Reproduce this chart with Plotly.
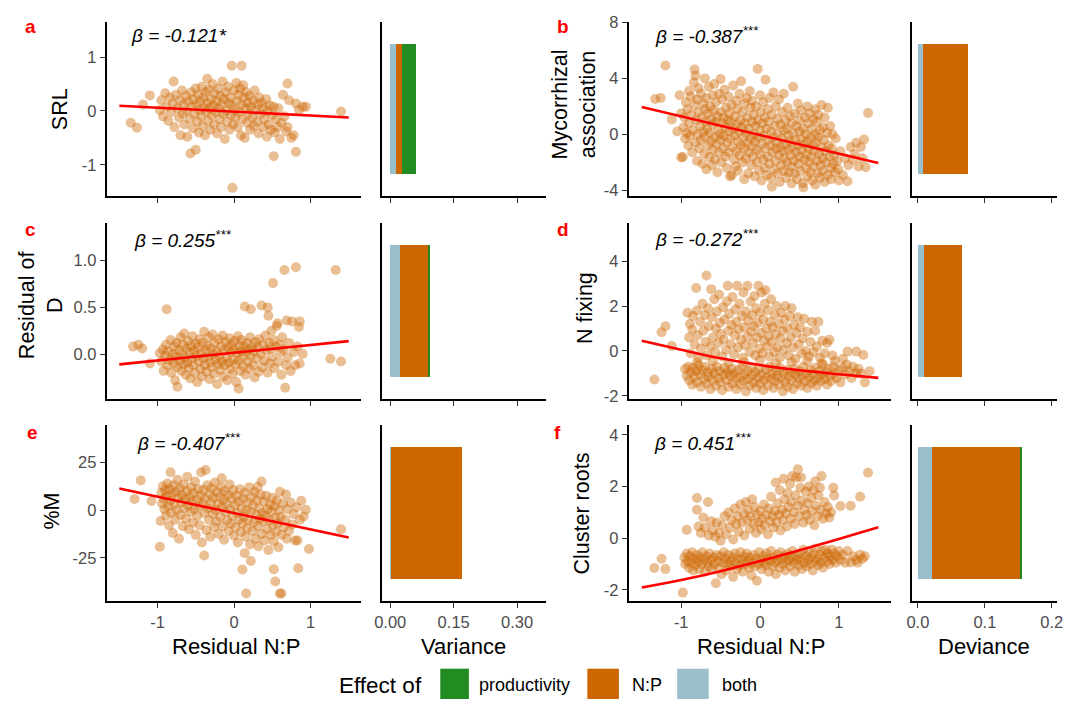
import plotly.graph_objects as go

W, H = 1071, 706

# ---------------- scatter data: (residual N:P, trait value) ----------------
srl_pts = [
    (-1.35, -0.22), (-1.27, -0.31), (-1.19, 0.12), (-1.10, 0.29),
    (-0.97, 0.02), (-0.95, 0.20), (-0.93, -0.10), (-0.90, 0.33), (-0.88, 0.08), (-0.86, -0.18),
    (-0.84, 0.25), (-0.82, -0.02), (-0.80, 0.14), (-0.79, 0.55), (-0.78, -0.30), (-0.76, 0.30),
    (-0.74, 0.05), (-0.72, -0.12), (-0.71, 0.20), (-0.70, -0.45), (-0.68, 0.38), (-0.67, -0.05),
    (-0.66, 0.12), (-0.65, -0.25), (-0.63, 0.28), (-0.62, 0.00), (-0.61, -0.48), (-0.60, 0.18),
    (-0.58, -0.15), (-0.57, -0.79), (-0.56, 0.35), (-0.55, 0.08), (-0.54, -0.32), (-0.53, 0.22),
    (-0.52, -0.05), (-0.50, -0.72), (-0.50, 0.42), (-0.49, 0.12), (-0.48, -0.20), (-0.47, 0.30),
    (-0.46, -0.40), (-0.45, 0.02), (-0.44, 0.18), (-0.43, -0.10), (-0.42, 0.45), (-0.41, -0.28),
    (-0.40, 0.25), (-0.39, 0.06), (-0.38, -0.45), (-0.37, 0.35), (-0.36, -0.02), (-0.35, 0.60),
    (-0.35, 0.15), (-0.34, -0.18), (-0.33, 0.40), (-0.32, 0.05), (-0.31, -0.35), (-0.30, 0.22),
    (-0.29, -0.08), (-0.28, 0.50), (-0.27, 0.10), (-0.26, -0.25), (-0.25, 0.32), (-0.24, -0.02),
    (-0.23, 0.18), (-0.22, -0.42), (-0.21, 0.42), (-0.20, 0.05), (-0.19, -0.15), (-0.18, 0.28),
    (-0.17, -0.30), (-0.16, 0.12), (-0.15, 0.55), (-0.14, -0.05), (-0.13, 0.22), (-0.12, -0.52),
    (-0.11, 0.35), (-0.10, 0.00), (-0.09, -0.20), (-0.08, 0.45), (-0.07, 0.15), (-0.06, -0.35),
    (-0.05, 0.25), (-0.04, -0.08), (-0.03, 0.84), (-0.03, 0.10), (-0.02, -1.43), (-0.01, -0.25),
    (0.00, 0.38), (0.01, 0.02), (0.02, -0.12), (0.03, 0.52), (0.04, 0.18), (0.05, -0.30),
    (0.06, 0.30), (0.07, -0.02), (0.08, 0.42), (0.09, -0.45), (0.10, 0.84), (0.10, 0.12),
    (0.11, -0.15), (0.12, 0.48), (0.13, 0.25), (0.14, -0.50), (0.15, 0.05), (0.16, 0.35),
    (0.17, -0.22), (0.18, 0.15), (0.19, -0.05), (0.20, 0.28), (0.21, -0.35), (0.22, 0.08),
    (0.24, -0.12), (0.25, 0.20), (0.26, -0.28), (0.27, 0.38), (0.28, 0.02), (0.30, -0.20),
    (0.31, 0.12), (0.32, -0.42), (0.33, 0.25), (0.35, -0.05), (0.36, 0.15), (0.38, -0.30),
    (0.39, 0.05), (0.40, -0.15), (0.42, 0.22), (0.43, -0.48), (0.44, 0.00), (0.45, -0.25),
    (0.47, 0.10), (0.48, -0.35), (0.50, -0.08), (0.52, -0.84), (0.52, 0.08), (0.53, -0.40),
    (0.55, -0.15), (0.57, -0.30), (0.58, 0.05), (0.60, -0.52), (0.62, -0.22), (0.64, 0.30),
    (0.66, -0.10), (0.68, -0.38), (0.70, 0.51), (0.70, -0.30), (0.72, 0.20), (0.75, -0.50),
    (0.78, -0.45), (0.81, 0.14), (0.81, -0.76), (0.85, 0.02), (0.90, 0.08), (0.94, 0.08),
    (1.40, -0.01),
]

myc_pts = [
    (-1.33, 2.53), (-1.26, 2.60), (-1.20, 4.93), (-1.12, 1.07), (-1.05, 0.20), (-1.02, 2.80),
    (-1.00, -1.65), (-1.00, 1.50),
    (-0.98, -1.62), (-0.97, 0.50), (-0.96, 1.20), (-0.95, -0.30), (-0.94, 2.30), (-0.93, 0.10),
    (-0.92, 1.80), (-0.91, -0.80), (-0.90, 3.10), (-0.90, 0.80),
    (-0.89, -0.10), (-0.88, 2.70), (-0.87, 1.40), (-0.86, -1.30), (-0.85, 0.30), (-0.84, 3.70),
    (-0.83, 4.63), (-0.83, 2.10), (-0.82, 4.20), (-0.82, -0.60), (-0.81, 1.00), (-0.80, -1.90),
    (-0.80, 2.50), (-0.79, 0.00),
    (-0.78, 3.30), (-0.78, 1.60), (-0.77, -1.00), (-0.76, 0.60), (-0.75, 2.90), (-0.75, -0.40),
    (-0.74, 1.20), (-0.73, -2.10), (-0.72, 2.20), (-0.72, 0.20), (-0.71, -1.40), (-0.70, 4.00),
    (-0.70, 1.80), (-0.70, -0.20),
    (-0.69, 0.90), (-0.68, -2.50), (-0.68, 2.60), (-0.67, 0.40), (-0.66, -0.80), (-0.66, 1.50),
    (-0.65, 3.40), (-0.64, -1.60), (-0.64, 0.10), (-0.63, 2.00), (-0.62, -0.50), (-0.62, 1.10),
    (-0.61, -2.20), (-0.60, 2.80), (-0.60, 0.70), (-0.60, -1.10),
    (-0.59, 1.70), (-0.58, -0.20), (-0.58, 3.60), (-0.57, -1.80), (-0.56, 0.90), (-0.56, 2.30),
    (-0.55, -0.70), (-0.54, 1.30), (-0.54, -2.70), (-0.53, 0.30), (-0.52, 2.90), (-0.52, -1.30),
    (-0.51, 0.00), (-0.50, 3.95), (-0.50, 1.60), (-0.50, -0.40),
    (-0.49, -2.00), (-0.48, 0.80), (-0.48, 2.50), (-0.47, -1.00), (-0.46, 1.20), (-0.46, -0.10),
    (-0.45, 3.20), (-0.44, -1.60), (-0.44, 0.50), (-0.43, 1.90), (-0.42, -2.40), (-0.42, -0.60),
    (-0.41, 1.00), (-0.40, 2.70), (-0.40, 0.20), (-0.40, -1.30),
    (-0.39, 1.50), (-0.38, -0.30), (-0.38, -3.00), (-0.37, 0.90), (-0.36, -2.93), (-0.36, 2.10),
    (-0.35, -0.90), (-0.34, 0.40), (-0.34, 3.50), (-0.33, -1.80), (-0.32, 1.30), (-0.32, -0.10),
    (-0.31, -2.30), (-0.30, 2.40), (-0.30, 0.70), (-0.30, -1.20),
    (-0.29, 1.80), (-0.28, -0.50), (-0.28, -2.60), (-0.27, 0.20), (-0.26, 2.90), (-0.26, -1.50),
    (-0.25, 1.00), (-0.24, -0.80), (-0.24, 3.80), (-0.23, 0.50), (-0.22, -2.00), (-0.22, 1.60),
    (-0.21, -0.20), (-0.20, -3.20), (-0.20, 2.20), (-0.20, -1.00),
    (-0.19, 0.80), (-0.18, -1.70), (-0.18, 0.10), (-0.17, 2.60), (-0.16, -0.60), (-0.16, 1.20),
    (-0.15, -2.80), (-0.14, 0.40), (-0.14, -1.30), (-0.13, 3.10), (-0.12, 1.90), (-0.12, -0.30),
    (-0.11, -2.20), (-0.10, 0.90), (-0.10, -0.90), (-0.10, 2.40),
    (-0.09, -1.60), (-0.08, 0.00), (-0.08, 1.40), (-0.07, -3.00), (-0.06, 0.60), (-0.06, -0.50),
    (-0.05, 2.00), (-0.04, -2.00), (-0.04, -1.10), (-0.03, 4.68), (-0.03, 1.00), (-0.02, -0.20),
    (-0.01, -2.60), (0.00, 2.80), (0.00, 0.30), (0.00, -1.40),
    (0.01, 1.60), (0.02, -0.70), (0.02, -3.30), (0.03, 0.80), (0.04, -1.80), (0.04, 2.30),
    (0.05, -0.10), (0.06, -2.40), (0.06, 1.20), (0.07, 3.90), (0.07, -1.00), (0.08, 0.40),
    (0.09, -2.90), (0.10, 1.80), (0.10, -0.40), (0.10, -1.60),
    (0.11, 0.90), (0.12, -2.10), (0.12, 2.60), (0.13, -0.80), (0.14, 0.20), (0.14, -3.10),
    (0.15, -3.74), (0.15, 1.40), (0.16, -1.30), (0.17, 3.00), (0.17, -0.20), (0.18, -2.50),
    (0.19, 0.60), (0.20, -1.00), (0.20, 2.00), (0.20, -1.90),
    (0.21, -0.60), (0.22, 1.10), (0.22, -2.80), (0.23, 0.00), (0.24, -1.50), (0.24, 2.50),
    (0.25, -3.40), (0.26, 0.70), (0.26, -0.90), (0.27, -2.20), (0.28, 1.60), (0.28, -0.30),
    (0.29, -1.20), (0.30, 2.90), (0.30, -2.60), (0.30, 0.30),
    (0.31, -1.70), (0.32, 1.00), (0.32, -0.70), (0.33, -3.10), (0.34, 0.40), (0.34, -2.00),
    (0.35, 1.90), (0.36, -1.10), (0.36, -0.10), (0.37, -2.70), (0.38, 1.30), (0.38, -0.50),
    (0.39, -1.50), (0.40, 0.80), (0.40, -3.50), (0.40, -2.30),
    (0.41, -0.90), (0.42, 3.40), (0.42, 0.10), (0.43, -1.90), (0.44, 1.50), (0.44, -2.80),
    (0.45, -0.40), (0.46, -1.30), (0.46, 0.60), (0.47, -3.20), (0.48, 2.20), (0.48, -0.80),
    (0.49, -2.10), (0.50, 0.20), (0.50, -1.60), (0.50, 1.00),
    (0.51, -2.60), (0.52, -0.30), (0.52, 1.70), (0.53, -1.10), (0.54, -3.50), (0.55, -3.80),
    (0.55, 0.40), (0.56, -1.80), (0.56, -0.70), (0.57, 1.20), (0.58, -2.40), (0.58, 0.00),
    (0.59, -1.40), (0.60, 2.00), (0.60, -3.00), (0.60, -0.50),
    (0.61, 0.80), (0.62, -2.00), (0.62, -1.00), (0.63, 1.50), (0.64, -2.70), (0.64, -0.20),
    (0.65, -1.60), (0.66, 0.40), (0.66, -3.30), (0.67, -0.80), (0.68, 1.10), (0.68, -2.30),
    (0.69, -1.20), (0.70, 0.00), (0.70, -3.60), (0.70, 1.80),
    (0.71, -0.60), (0.72, -1.90), (0.72, 0.90), (0.73, -2.80), (0.74, -0.20), (0.74, 1.40),
    (0.75, -1.40), (0.76, -3.10), (0.76, 0.30), (0.77, -2.20), (0.78, -0.90), (0.78, 2.10),
    (0.79, -1.70), (0.80, 0.50), (0.80, -2.60),
    (0.81, -0.40), (0.82, -3.40), (0.82, 1.20), (0.83, -1.20), (0.84, -2.00), (0.85, 0.10),
    (0.86, -2.90), (0.86, 1.90), (0.87, -0.80), (0.88, -1.60), (0.89, 0.60), (0.90, -2.40),
    (0.90, -3.20),
    (0.91, -1.00), (0.92, 0.00), (0.93, -2.10), (0.94, -1.50), (0.95, -2.70), (0.96, -0.30),
    (0.98, -1.90), (0.99, -2.50), (1.00, -3.30), (1.02, -1.20),
    (1.05, -2.90), (1.08, -1.70), (1.11, -3.35), (1.12, -2.20), (1.15, -0.90), (1.18, -1.80),
    (1.20, -1.40), (1.22, -0.60), (1.25, -2.30), (1.28, -0.90), (1.30, -1.70), (1.32, -0.37),
    (1.34, -2.35), (1.37, 1.53),
]

resd_pts = [
    (-1.32, 0.08), (-1.25, 0.10), (-1.20, 0.06), (-1.10, -0.10), (-0.88, 0.48),
    (-0.97, 0.01), (-0.95, -0.08), (-0.93, 0.05), (-0.92, -0.18), (-0.90, -0.02), (-0.89, 0.10),
    (-0.87, -0.12), (-0.86, 0.03), (-0.84, -0.06), (-0.83, 0.15), (-0.82, -0.20), (-0.80, 0.00),
    (-0.79, -0.10), (-0.78, 0.08), (-0.77, -0.28), (-0.76, -0.03), (-0.75, 0.12), (-0.74, -0.35),
    (-0.74, -0.14), (-0.72, 0.04), (-0.71, -0.07), (-0.70, 0.18), (-0.69, -0.18), (-0.68, 0.00),
    (-0.67, 0.10), (-0.66, -0.11), (-0.65, 0.22), (-0.64, -0.04), (-0.63, -0.22), (-0.62, 0.06),
    (-0.61, -0.09), (-0.60, 0.14), (-0.59, -0.15), (-0.58, 0.02), (-0.57, -0.26), (-0.56, 0.09),
    (-0.55, -0.05), (-0.54, 0.19), (-0.53, -0.12), (-0.52, 0.03), (-0.51, -0.20), (-0.50, 0.11),
    (-0.49, -0.02), (-0.48, -0.30), (-0.47, 0.07), (-0.46, -0.08), (-0.45, 0.16), (-0.44, -0.16),
    (-0.43, 0.01), (-0.42, -0.24), (-0.41, 0.12), (-0.40, -0.05), (-0.39, 0.24), (-0.38, -0.12),
    (-0.37, 0.04), (-0.36, -0.19), (-0.35, 0.09), (-0.34, -0.03), (-0.33, 0.18), (-0.32, -0.27),
    (-0.31, -0.09), (-0.30, 0.06), (-0.29, -0.14), (-0.28, 0.21), (-0.27, 0.00), (-0.26, -0.21),
    (-0.25, 0.12), (-0.24, -0.06), (-0.23, 0.03), (-0.22, -0.32), (-0.21, -0.11), (-0.20, 0.16),
    (-0.19, -0.02), (-0.18, -0.17), (-0.17, 0.08), (-0.16, -0.08), (-0.15, 0.20), (-0.14, -0.24),
    (-0.13, 0.04), (-0.12, -0.12), (-0.11, 0.13), (-0.10, -0.04), (-0.09, -0.28), (-0.08, 0.07),
    (-0.07, -0.09), (-0.06, 0.17), (-0.05, -0.16), (-0.04, 0.02), (-0.03, 0.10), (-0.02, -0.21),
    (-0.01, -0.06), (0.00, 0.05), (0.01, 0.14), (0.02, -0.11), (0.03, -0.30), (0.04, 0.01),
    (0.05, 0.19), (0.06, -0.37), (0.06, -0.07), (0.07, 0.09), (0.08, -0.18), (0.09, 0.03),
    (0.10, 0.15), (0.11, -0.03), (0.12, -0.13), (0.13, 0.08), (0.14, 0.51), (0.15, -0.22),
    (0.16, 0.02), (0.17, 0.12), (0.18, -0.08), (0.19, 0.05), (0.20, -0.16), (0.21, 0.18),
    (0.22, 0.48), (0.22, -0.02), (0.24, 0.08), (0.25, -0.12), (0.26, 0.03), (0.27, -0.25),
    (0.28, 0.13), (0.30, -0.05), (0.31, 0.07), (0.32, -0.19), (0.33, 0.16), (0.35, 0.00),
    (0.36, 0.52), (0.37, -0.14), (0.38, 0.10), (0.40, -0.07), (0.41, 0.20), (0.42, 0.04),
    (0.44, 0.50), (0.44, -0.20), (0.45, 0.41), (0.46, 0.12), (0.47, -0.10), (0.48, 0.06),
    (0.49, 0.25), (0.50, -0.03), (0.51, 0.76), (0.52, 0.15), (0.53, -0.15), (0.55, 0.08),
    (0.56, 0.30), (0.57, 0.33), (0.58, -0.08), (0.60, 0.10), (0.61, 0.02), (0.62, -0.22),
    (0.63, 0.18), (0.65, 0.05), (0.66, 0.90), (0.67, -0.36), (0.68, -0.12), (0.69, 0.36),
    (0.70, -0.04), (0.72, 0.12), (0.74, -0.18), (0.76, 0.35), (0.78, 0.02), (0.80, -0.12),
    (0.81, 0.93), (0.83, 0.08), (0.85, 0.29), (0.86, 0.35), (0.86, -0.10), (0.90, 0.00),
    (1.26, -0.05), (1.33, 0.90), (1.40, -0.08),
]

nfix_pts = [
    # lower band
    (-1.34, -1.27), (-0.95, -0.80), (-0.93, -1.10), (-0.91, -0.70), (-0.90, -1.30), (-0.88, -0.95),
    (-0.86, -1.50), (-0.85, -0.75), (-0.83, -1.15), (-0.81, -0.90), (-0.80, -1.40), (-0.78, -0.65),
    (-0.76, -1.05), (-0.75, -1.60), (-0.73, -0.85), (-0.71, -1.25), (-0.70, -0.70), (-0.68, -1.45),
    (-0.66, -0.95), (-0.65, -1.15), (-0.63, -1.70), (-0.61, -0.80), (-0.60, -1.30), (-0.58, -1.00),
    (-0.56, -1.55), (-0.55, -0.70), (-0.53, -1.20), (-0.51, -0.90), (-0.50, -1.40), (-0.48, -1.75),
    (-0.46, -1.05), (-0.45, -0.75), (-0.43, -1.30), (-0.41, -0.95), (-0.40, -1.60), (-0.38, -1.10),
    (-0.36, -0.80), (-0.35, -1.45), (-0.33, -1.00), (-0.31, -1.25), (-0.30, -1.70), (-0.28, -0.85),
    (-0.26, -1.15), (-0.25, -1.50), (-0.23, -0.70), (-0.21, -1.35), (-0.20, -1.05), (-0.18, -1.80),
    (-0.16, -0.90), (-0.15, -1.25), (-0.13, -1.55), (-0.11, -0.75), (-0.10, -1.10), (-0.08, -1.40),
    (-0.06, -0.95), (-0.05, -1.65), (-0.03, -1.20), (-0.01, -0.80), (0.00, -1.45), (0.02, -1.05),
    (0.04, -1.75), (0.05, -1.30), (0.07, -0.85), (0.09, -1.15), (0.10, -1.55), (0.12, -0.70),
    (0.14, -1.25), (0.15, -1.00), (0.17, -1.65), (0.19, -1.35), (0.20, -0.90), (0.22, -1.10),
    (0.24, -1.50), (0.25, -0.75), (0.27, -1.20), (0.29, -1.80), (0.30, -1.00), (0.32, -1.40),
    (0.34, -0.85), (0.35, -1.60), (0.37, -1.15), (0.39, -0.95), (0.40, -1.30), (0.42, -1.70),
    (0.44, -0.80), (0.45, -1.05), (0.47, -1.45), (0.49, -1.20), (0.50, -0.90), (0.52, -1.55),
    (0.54, -1.10), (0.55, -0.70), (0.57, -1.35), (0.59, -1.00), (0.60, -1.65), (0.62, -1.20),
    (0.64, -0.85), (0.65, -1.45), (0.67, -1.05), (0.69, -1.30), (0.70, -0.75), (0.72, -1.55),
    (0.74, -1.15), (0.75, -0.90), (0.77, -1.35), (0.79, -1.05), (0.80, -0.60), (0.82, -1.25),
    (0.84, -0.95), (0.85, -1.50), (0.87, -0.80), (0.89, -1.10), (0.90, -1.35), (0.93, -0.70),
    (0.95, -1.00), (0.97, -1.20), (1.00, -0.85), (1.02, -1.40), (1.05, -0.75), (1.08, -1.05),
    (1.10, -0.60), (1.13, -0.90), (1.16, -1.20), (1.18, -0.70), (1.22, -1.00), (1.25, -0.80),
    (1.28, -1.00), (1.33, -1.40), (1.39, -0.90),
    # between the bands
    (-0.80, -0.50), (-0.60, -0.45), (-0.40, -0.55), (-0.20, -0.50), (0.00, -0.40), (0.20, -0.55),
    (0.40, -0.50), (0.60, -0.45), (0.78, -0.55), (0.95, -0.45), (1.05, -0.35),
    # upper cloud
    (-1.25, 0.83), (-1.20, 1.10), (-1.12, 0.22), (-0.92, 1.70), (-0.90, 0.60), (-0.89, 1.20),
    (-0.88, -0.10), (-0.86, 0.95), (-0.85, 1.55), (-0.83, 0.30), (-0.81, 2.80), (-0.80, 1.80),
    (-0.79, 0.70), (-0.78, -0.30), (-0.76, 1.30), (-0.75, 0.10), (-0.73, 2.10), (-0.72, 0.90),
    (-0.70, 1.60), (-0.69, 0.40), (-0.68, 3.36), (-0.67, -0.20), (-0.66, 1.90), (-0.65, 1.10),
    (-0.63, 0.20), (-0.62, 2.75), (-0.61, 1.50), (-0.60, 0.60), (-0.58, 2.30), (-0.57, -0.05),
    (-0.56, 1.00), (-0.55, 1.75), (-0.53, 0.35), (-0.52, 2.50), (-0.51, 1.25), (-0.50, 0.75),
    (-0.48, -0.25), (-0.47, 1.95), (-0.46, 0.50), (-0.45, 1.40), (-0.43, 0.05), (-0.42, 2.20),
    (-0.41, 2.90), (-0.40, 0.90), (-0.39, 1.65), (-0.37, 0.30), (-0.36, 1.15), (-0.35, 2.40),
    (-0.33, -0.15), (-0.32, 0.70), (-0.31, 1.85), (-0.30, 1.30), (-0.29, 2.90), (-0.28, 0.15),
    (-0.27, 0.95), (-0.26, 2.10), (-0.24, 0.50), (-0.23, 1.55), (-0.22, -0.30), (-0.21, 2.60),
    (-0.20, 1.05), (-0.19, 0.25), (-0.18, 1.75), (-0.16, 2.90), (-0.16, 0.65), (-0.15, 1.35),
    (-0.13, -0.05), (-0.12, 2.20), (-0.11, 0.85), (-0.10, 1.60), (-0.09, 0.35), (-0.08, 1.10),
    (-0.07, 2.45), (-0.06, -0.20), (-0.05, 1.90), (-0.04, 0.60), (-0.03, 1.25), (-0.02, 2.90),
    (-0.01, 0.10), (0.00, 1.70), (0.01, 0.80), (0.02, 2.60), (0.03, -0.10), (0.04, 1.40),
    (0.05, 0.45), (0.06, 2.10), (0.07, 2.70), (0.08, 1.00), (0.09, 0.20), (0.10, 1.80),
    (0.11, 0.65), (0.12, -0.25), (0.13, 1.30), (0.14, 2.30), (0.15, 0.40), (0.16, 1.05),
    (0.18, -0.05), (0.19, 1.60), (0.20, 0.75), (0.21, 2.00), (0.22, 0.15), (0.24, 1.20),
    (0.25, -0.30), (0.26, 0.55), (0.27, 1.70), (0.29, 0.90), (0.30, 0.05), (0.31, 1.40),
    (0.32, 2.00), (0.34, 0.35), (0.35, 1.00), (0.36, -0.20), (0.38, 1.55), (0.39, 0.60),
    (0.40, 1.90), (0.42, 0.15), (0.43, 1.15), (0.45, -0.35), (0.46, 0.80), (0.48, 1.50),
    (0.49, 0.30), (0.51, 1.05), (0.53, -0.10), (0.54, 0.55), (0.56, 1.43), (0.58, 0.00),
    (0.60, 0.85), (0.62, -0.25), (0.64, 0.40), (0.66, 1.30), (0.68, -0.05), (0.70, 0.90),
    (0.72, 0.20), (0.74, 1.30), (0.76, -0.30), (0.79, 0.45), (0.82, -0.10), (0.85, 0.35),
    (0.88, 0.50), (0.92, -0.20), (1.11, -0.03), (1.22, -0.03), (1.31, -0.18),
]

pm_pts = [
    (-1.30, 5.8), (-1.22, 15.6), (-1.08, 4.8), (-0.97, -19.2), (-0.96, -5.7),
    (-0.95, 9.0), (-0.94, 3.5), (-0.93, 12.5), (-0.92, 6.0), (-0.91, 0.5), (-0.90, 10.5),
    (-0.89, -3.0), (-0.88, 7.5), (-0.87, 14.0), (-0.86, 2.0), (-0.85, -8.0), (-0.84, 11.0),
    (-0.83, 19.9), (-0.83, 5.0), (-0.82, -1.5), (-0.81, 8.5), (-0.80, -12.0), (-0.79, 13.0),
    (-0.78, 3.0), (-0.77, -5.0), (-0.76, 9.5), (-0.75, 0.0), (-0.74, 16.0), (-0.73, 6.5),
    (-0.72, -15.0), (-0.71, 11.5), (-0.70, -2.5), (-0.69, 4.0), (-0.68, 8.0), (-0.67, -8.5),
    (-0.66, 13.5), (-0.65, 1.0), (-0.64, 6.0), (-0.63, -4.5), (-0.62, 10.0), (-0.61, 17.5),
    (-0.60, 2.5), (-0.59, -10.0), (-0.58, 7.0), (-0.57, -1.0), (-0.56, 12.0), (-0.55, 4.5),
    (-0.54, -6.5), (-0.53, 9.0), (-0.52, 0.5), (-0.51, 15.0), (-0.50, -13.0), (-0.49, 5.5),
    (-0.48, -3.0), (-0.47, 11.0), (-0.46, 2.0), (-0.45, -8.0), (-0.44, 7.5), (-0.43, 19.9),
    (-0.42, -17.0), (-0.41, 3.5), (-0.40, 10.5), (-0.39, -23.8), (-0.39, -1.5), (-0.38, 6.0),
    (-0.37, 21.0), (-0.36, -10.5), (-0.35, 13.0), (-0.34, 1.0), (-0.33, -5.0), (-0.32, 8.5),
    (-0.31, -14.0), (-0.30, 4.0), (-0.29, 11.5), (-0.28, -2.0), (-0.27, 6.5), (-0.26, -9.0),
    (-0.25, 14.5), (-0.24, 0.0), (-0.23, -6.0), (-0.22, 9.5), (-0.21, 3.0), (-0.20, -12.5),
    (-0.19, 7.0), (-0.18, -3.5), (-0.17, 12.0), (-0.16, 16.7), (-0.16, 1.5), (-0.15, -8.5),
    (-0.14, 5.5), (-0.13, -15.5), (-0.12, 10.0), (-0.11, -1.0), (-0.10, 3.5), (-0.09, -5.5),
    (-0.08, 8.0), (-0.07, -11.0), (-0.06, 13.5), (-0.05, 0.5), (-0.04, -7.0), (-0.03, 6.0),
    (-0.02, -3.0), (-0.01, 10.5), (0.00, -13.5), (0.01, 2.5), (0.02, -9.0), (0.03, 7.5),
    (0.04, -1.5), (0.05, -17.0), (0.06, 4.5), (0.07, -5.0), (0.08, 11.0), (0.09, -11.5),
    (0.10, 1.0), (0.11, -31.2), (0.11, -7.0), (0.12, 6.0), (0.13, -3.5), (0.14, -22.6),
    (0.14, 9.0), (0.15, -14.0), (0.16, -43.8), (0.16, 0.0), (0.17, -9.5), (0.18, 4.0),
    (0.19, -5.5), (0.20, 12.0), (0.21, -18.0), (0.22, -26.7), (0.22, -1.0), (0.23, 7.0),
    (0.24, -11.0), (0.25, 2.5), (0.26, -6.5), (0.27, 9.5), (0.28, -15.0), (0.29, -2.5),
    (0.30, 5.0), (0.31, 12.2), (0.31, -8.5), (0.32, -19.0), (0.33, 1.0), (0.34, -4.5),
    (0.35, 8.0), (0.36, 15.0), (0.36, -12.5), (0.37, -1.5), (0.38, -6.0), (0.39, 4.5),
    (0.40, -16.0), (0.41, -3.0), (0.42, 7.5), (0.43, -10.0), (0.44, 0.5), (0.45, -21.0),
    (0.46, -5.5), (0.47, 3.0), (0.48, -13.0), (0.49, -1.0), (0.50, 6.5), (0.51, -8.0),
    (0.52, -31.0), (0.52, -16.5), (0.53, 2.0), (0.54, -37.5), (0.54, -4.0), (0.55, -11.5),
    (0.56, 5.0), (0.57, -7.0), (0.58, -19.5), (0.59, 0.0), (0.60, 9.6), (0.60, -43.8),
    (0.61, -3.5), (0.62, -43.8), (0.62, -13.0), (0.64, 3.5), (0.65, -9.0), (0.67, -5.0),
    (0.68, 8.2), (0.69, -15.0), (0.70, 0.5), (0.72, -11.0), (0.74, 4.0), (0.76, -7.5),
    (0.78, -2.0), (0.80, -16.0), (0.82, 1.5), (0.83, -16.0), (0.84, -30.5), (0.86, -5.0),
    (0.88, 4.9), (0.91, -3.3), (0.94, 0.2), (0.98, -20.4), (1.40, -10.1),
]

cluster_pts = [
    # non-cluster-rooted band
    (-1.34, -1.16), (-1.25, -0.80), (-1.20, -1.20), (-0.98, -2.11),
    (-0.96, -0.75), (-0.95, -1.00), (-0.93, -0.60), (-0.92, -0.90), (-0.90, -1.15), (-0.89, -0.70),
    (-0.87, -0.95), (-0.86, -0.55), (-0.85, -1.25), (-0.83, -0.80), (-0.82, -1.05), (-0.80, -0.65),
    (-0.79, -0.90), (-0.77, -1.20), (-0.76, -0.75), (-0.74, -1.00), (-0.73, -0.55), (-0.71, -0.85),
    (-0.70, -1.30), (-0.68, -0.70), (-0.67, -0.95), (-0.65, -1.10), (-0.64, -0.60), (-0.62, -0.85),
    (-0.61, -1.20), (-0.59, -0.75), (-0.58, -1.00), (-0.56, -1.75), (-0.55, -0.65), (-0.53, -0.90),
    (-0.52, -1.15), (-0.50, -0.70), (-0.49, -1.40), (-0.47, -0.95), (-0.46, -0.55), (-0.44, -0.80),
    (-0.43, -1.25), (-0.41, -1.00), (-0.40, -0.65), (-0.38, -0.90), (-0.37, -1.10), (-0.35, -0.75),
    (-0.34, -1.50), (-0.32, -0.60), (-0.31, -0.95), (-0.29, -1.20), (-0.28, -0.80), (-0.26, -1.05),
    (-0.25, -0.55), (-0.23, -0.85), (-0.22, -1.30), (-0.20, -0.70), (-0.19, -1.00), (-0.17, -0.60),
    (-0.16, -0.90), (-0.14, -1.15), (-0.13, -0.75), (-0.11, -1.45), (-0.10, -0.95), (-0.08, -0.65),
    (-0.07, -1.10), (-0.05, -0.80), (-0.04, -1.65), (-0.02, -1.00), (-0.01, -0.55), (0.01, -0.85),
    (0.02, -1.20), (0.04, -0.70), (0.05, -0.95), (0.07, -1.05), (0.08, -0.60), (0.10, -0.80),
    (0.11, -1.30), (0.13, -0.90), (0.14, -0.50), (0.16, -1.10), (0.17, -0.75), (0.19, -0.95),
    (0.20, -1.40), (0.22, -0.65), (0.23, -0.85), (0.25, -1.15), (0.26, -0.55), (0.28, -0.80),
    (0.29, -1.00), (0.31, -0.70), (0.32, -1.25), (0.34, -0.90), (0.35, -0.60), (0.37, -0.85),
    (0.38, -1.10), (0.40, -0.75), (0.41, -0.50), (0.43, -0.95), (0.44, -1.30), (0.46, -0.70),
    (0.47, -0.85), (0.49, -1.05), (0.50, -0.60), (0.52, -0.80), (0.53, -1.20), (0.55, -0.45),
    (0.56, -0.95), (0.58, -0.70), (0.59, -1.10), (0.61, -0.85), (0.62, -0.55), (0.64, -1.00),
    (0.65, -0.75), (0.67, -1.25), (0.68, -0.60), (0.70, -0.90), (0.71, -0.40), (0.73, -0.80),
    (0.74, -1.05), (0.76, -0.65), (0.77, -0.95), (0.79, -0.50), (0.80, -1.15), (0.82, -0.75),
    (0.83, -0.45), (0.85, -0.90), (0.86, -0.60), (0.88, -1.00), (0.89, -0.70), (0.91, -0.45),
    (0.92, -0.85), (0.94, -0.60), (0.96, -0.95), (0.98, -0.70), (1.00, -0.50), (1.02, -0.85),
    (1.05, -0.65), (1.08, -0.95), (1.11, -0.50), (1.15, -0.94), (1.18, -0.70), (1.22, -0.85),
    (1.24, -0.95), (1.27, -0.64), (1.30, -0.80), (1.33, -0.70),
    # cluster-rooted cloud
    (-0.93, 0.32), (-0.80, 1.55), (-0.80, 1.10), (-0.78, 0.45), (-0.75, 0.20), (-0.72, 0.80),
    (-0.70, 0.40), (-0.66, 1.40), (-0.65, 0.10), (-0.62, 0.65), (-0.60, 0.30), (-0.57, 0.05),
    (-0.55, 0.60), (-0.52, 0.20), (-0.50, -0.10), (-0.48, 0.50), (-0.45, 0.85), (-0.43, 0.15),
    (-0.40, 1.00), (-0.38, 0.40), (-0.36, 0.70), (-0.34, -0.05), (-0.32, 1.15), (-0.30, 0.55),
    (-0.28, 0.85), (-0.27, 0.25), (-0.25, 1.30), (-0.23, 0.60), (-0.21, 0.95), (-0.20, 0.10),
    (-0.18, 1.40), (-0.16, 0.70), (-0.15, 1.10), (-0.13, 0.35), (-0.12, 0.85), (-0.10, 1.50),
    (-0.08, 0.55), (-0.07, 1.20), (-0.05, 0.20), (-0.04, 0.90), (-0.02, 0.60), (0.00, 1.05),
    (0.01, 0.35), (0.03, 0.75), (0.05, 1.30), (0.06, 0.50), (0.08, 0.90), (0.10, 0.15),
    (0.11, 1.15), (0.13, 0.65), (0.14, 1.60), (0.16, 0.85), (0.17, 0.40), (0.19, 1.05),
    (0.20, 2.15), (0.21, 0.60), (0.22, 1.35), (0.24, 0.90), (0.25, 1.85), (0.26, 0.30),
    (0.28, 1.10), (0.29, 0.70), (0.30, 2.30), (0.31, 1.50), (0.33, 0.95), (0.34, 0.45),
    (0.35, 1.75), (0.36, 1.20), (0.38, 2.10), (0.39, 0.75), (0.40, 1.40), (0.41, 2.40),
    (0.43, 1.00), (0.44, 0.55), (0.45, 1.65), (0.46, 2.35), (0.48, 2.67), (0.48, 1.25),
    (0.50, 0.85), (0.51, 1.95), (0.52, 2.35), (0.53, 1.45), (0.55, 0.60), (0.56, 1.10),
    (0.58, 1.80), (0.59, 0.90), (0.60, 1.35), (0.62, 2.00), (0.63, 0.70), (0.65, 1.55),
    (0.66, 1.05), (0.68, 1.85), (0.69, 0.50), (0.70, 2.20), (0.71, 1.25), (0.73, 0.85),
    (0.74, 1.65), (0.76, 1.95), (0.77, 1.10), (0.78, 2.40), (0.80, 0.75), (0.82, 1.40),
    (0.84, 0.95), (0.86, 1.20), (0.88, 0.80), (0.90, 1.00), (0.93, 1.95), (0.94, 1.65),
    (1.02, 1.24), (1.15, 1.25), (1.27, 1.60), (1.37, 2.53),
]

# ---------------- model predictions along residual N:P ----------------
line_x2 = [-1.5, 1.5]
curve_x = [-1.5, -1.0, -0.5, 0.0, 0.5, 1.0, 1.5]
srl_fit = [0.096, -0.12]
myc_fit = [1.95, -2.05]
resd_fit = [-0.11, 0.139]
nfix_fit = [0.45, 0.05, -0.33, -0.63, -0.86, -1.04, -1.20]
pm_fit = [11.3, -14.4]
cluster_fit = [-1.91, -1.62, -1.28, -0.89, -0.47, -0.03, 0.42]

# ---------------- variance / deviance partitioning ----------------
effects = ["both", "N:P", "productivity"]       # stacking order, left to right
srl_part = [0.013, 0.014, 0.035]
myc_part = [0.0074, 0.0674, 0.0]
resd_part = [0.023, 0.067, 0.003]
nfix_part = [0.0096, 0.0555, 0.0]
pm_part = [0.001, 0.168, 0.0]
cluster_part = [0.021, 0.133, 0.0015]

legend_labels = ["productivity", "N:P", "both"]

# ---------------- styling ----------------
FONT = "Liberation Sans, Arial, Helvetica, sans-serif"
GREEN, ORANGE, BLUE = "#228B22", "#CD6600", "#9AC0CD"
EFFECT_COLORS = {"both": BLUE, "N:P": ORANGE, "productivity": GREEN}
POINT = "rgba(205,102,0,0.42)"
TICK_GREY = "#4D4D4D"


def fx(px):
    return px / W


def fy(py):
    return 1 - py / H


rows = [(13, 191), (219, 398), (425, 605)]
cols = {"sl": (100, 358), "bl": (379, 545), "sr": (629, 895), "br": (916, 1063)}

panels = [
    dict(letter="a", pts=srl_pts, lx=line_x2, ly=srl_fit, yr=[-1.58, 1.66], yt=[-1, 0, 1],
         ytt=["-1", "0", "1"], title="SRL", tx=53, ty=102, row=0, side="l",
         beta="β = -0.121*", bx=123, by=27, part=srl_part, lpos=(23, 18)),
    dict(letter="b", pts=myc_pts, lx=line_x2, ly=myc_fit, yr=[-4.4, 8.05], yt=[-4, 0, 4, 8],
         ytt=["-4", "0", "4", "8"], title="Mycorrhizal<br>association", tx=573, ty=98, row=0,
         side="r", beta="β = -0.387<sup>***</sup>", bx=654, by=27, part=myc_part, lpos=(562, 18)),
    dict(letter="c", pts=resd_pts, lx=line_x2, ly=resd_fit, yr=[-0.476, 1.40], yt=[0, 0.5, 1.0],
         ytt=["0.0", "0.5", "1.0"], title="Residual of<br>D", tx=33, ty=303, row=1, side="l",
         beta="β = 0.255<sup>***</sup>", bx=126, by=235, part=resd_part, lpos=(23, 225)),
    dict(letter="d", pts=nfix_pts, lx=curve_x, ly=nfix_fit, yr=[-2.12, 5.68], yt=[-2, 0, 2, 4],
         ytt=["-2", "0", "2", "4"], title="N fixing", tx=584, ty=305, row=1, side="r",
         beta="β = -0.272<sup>***</sup>", bx=654, by=234, part=nfix_part, lpos=(562, 225)),
    dict(letter="e", pts=pm_pts, lx=line_x2, ly=pm_fit, yr=[-47.8, 44.7], yt=[-25, 0, 25],
         ytt=["-25", "0", "25"], title="%M", tx=45, ty=513, row=2, side="l",
         beta="β = -0.407<sup>***</sup>", bx=129, by=442, part=pm_part, lpos=(25, 433)),
    dict(letter="f", pts=cluster_pts, lx=curve_x, ly=cluster_fit, yr=[-2.44, 4.38],
         yt=[-2, 0, 2, 4], ytt=["-2", "0", "2", "4"], title="Cluster roots", tx=582, ty=515,
         row=2, side="r", beta="β = 0.451<sup>***</sup>", bx=653, by=442, part=cluster_part,
         lpos=(557, 433)),
]

fig = go.Figure()
layout = {}
annotations = []
shapes = []


def axis_base(**kw):
    d = dict(showline=True, linecolor="black", linewidth=2, ticks="outside", ticklen=5,
             tickwidth=1.4, tickcolor="#333333", showgrid=False, zeroline=False,
             tickfont=dict(family=FONT, size=16.5, color=TICK_GREY), fixedrange=True)
    d.update(kw)
    return d


for i, p in enumerate(panels):
    top, bot = rows[p["row"]]
    bottom_row = p["row"] == 2
    s_ax, b_ax = 2 * i + 1, 2 * i + 2
    scol = cols["sl" if p["side"] == "l" else "sr"]
    bcol = cols["bl" if p["side"] == "l" else "br"]

    # scatter panel
    xs = [q[0] for q in p["pts"]]
    ys = [q[1] for q in p["pts"]]
    fig.add_trace(go.Scatter(x=xs, y=ys, mode="markers", xaxis=f"x{s_ax}", yaxis=f"y{s_ax}",
                             marker=dict(size=10, color=POINT, line=dict(width=0)),
                             hoverinfo="skip"))
    fig.add_trace(go.Scatter(x=p["lx"], y=p["ly"], mode="lines", xaxis=f"x{s_ax}",
                             yaxis=f"y{s_ax}", line=dict(color="#FF0000", width=2.6,
                                                         shape="spline"),
                             hoverinfo="skip"))
    layout[f"xaxis{s_ax}"] = axis_base(domain=[fx(scol[0]), fx(scol[1])], anchor=f"y{s_ax}",
                                       range=[-1.665, 1.665], tickvals=[-1, 0, 1],
                                       ticktext=["-1", "0", "1"], showticklabels=bottom_row)
    layout[f"yaxis{s_ax}"] = axis_base(domain=[fy(bot), fy(top)], anchor=f"x{s_ax}",
                                       range=p["yr"], tickvals=p["yt"], ticktext=p["ytt"])

    # partition bar panel
    for eff, val in zip(effects, p["part"]):
        fig.add_trace(go.Bar(x=[val], y=[1], orientation="h", width=0.9, xaxis=f"x{b_ax}",
                             yaxis=f"y{b_ax}", marker=dict(color=EFFECT_COLORS[eff],
                                                           line=dict(width=0)),
                             hoverinfo="skip"))
    if p["side"] == "l":
        bx_range, bx_ticks, bx_text = [-0.0194, 0.368], [0, 0.15, 0.30], ["0.00", "0.15", "0.30"]
    else:
        bx_range, bx_ticks, bx_text = [-0.0088, 0.2079], [0, 0.1, 0.2], ["0.0", "0.1", "0.2"]
    layout[f"xaxis{b_ax}"] = axis_base(domain=[fx(bcol[0]), fx(bcol[1])], anchor=f"y{b_ax}",
                                       range=bx_range, tickvals=bx_ticks, ticktext=bx_text,
                                       showticklabels=bottom_row)
    layout[f"yaxis{b_ax}"] = axis_base(domain=[fy(bot), fy(top)], anchor=f"x{b_ax}",
                                       range=[0.4, 1.6], ticks="", showticklabels=False)

    # panel letter, effect size, y title
    annotations.append(dict(text=f"<b>{p['letter']}</b>", x=fx(p["lpos"][0]), y=fy(p["lpos"][1]),
                            xref="paper", yref="paper", showarrow=False, xanchor="center",
                            yanchor="middle", font=dict(family=FONT, size=19, color="#FF0000")))
    annotations.append(dict(text=f"<i>{p['beta']}</i>", x=fx(p["bx"]), y=fy(p["by"]),
                            xref="paper", yref="paper", showarrow=False, xanchor="left",
                            yanchor="middle", font=dict(family=FONT, size=19, color="black")))
    annotations.append(dict(text=p["title"], x=fx(p["tx"]), y=fy(p["ty"]), xref="paper",
                            yref="paper", showarrow=False, textangle=-90, xanchor="center",
                            yanchor="middle", font=dict(family=FONT, size=21.5, color="black")))

# x-axis titles
for label, cx in [("Residual N:P", 231), ("Variance", 462), ("Residual N:P", 763),
                  ("Deviance", 989)]:
    annotations.append(dict(text=label, x=fx(cx), y=fy(651), xref="paper", yref="paper",
                            showarrow=False, xanchor="center", yanchor="middle",
                            font=dict(family=FONT, size=22, color="black")))

# legend
annotations.append(dict(text="Effect of", x=fx(377), y=fy(691), xref="paper", yref="paper",
                        showarrow=False, xanchor="center", yanchor="middle",
                        font=dict(family=FONT, size=22.5, color="black")))
legend_keys = [(438, 467, 475), (587, 619, 630), (678, 710, 721)]
legend_cols = [GREEN, ORANGE, BLUE]
for lab, col, (k0, k1, tx) in zip(legend_labels, legend_cols, legend_keys):
    shapes.append(dict(type="rect", xref="paper", yref="paper", x0=fx(k0), x1=fx(k1),
                       y0=fy(705), y1=fy(674), fillcolor=col, line=dict(width=0)))
    annotations.append(dict(text=lab, x=fx(tx), y=fy(691), xref="paper", yref="paper",
                            showarrow=False, xanchor="left", yanchor="middle",
                            font=dict(family=FONT, size=18, color="black")))

fig.update_layout(**layout)
fig.update_layout(width=W, height=H, margin=dict(l=0, r=0, t=0, b=0), showlegend=False,
                  barmode="stack", plot_bgcolor="white", paper_bgcolor="white",
                  annotations=annotations, shapes=shapes, font=dict(family=FONT))

fig.write_html("out.html")
